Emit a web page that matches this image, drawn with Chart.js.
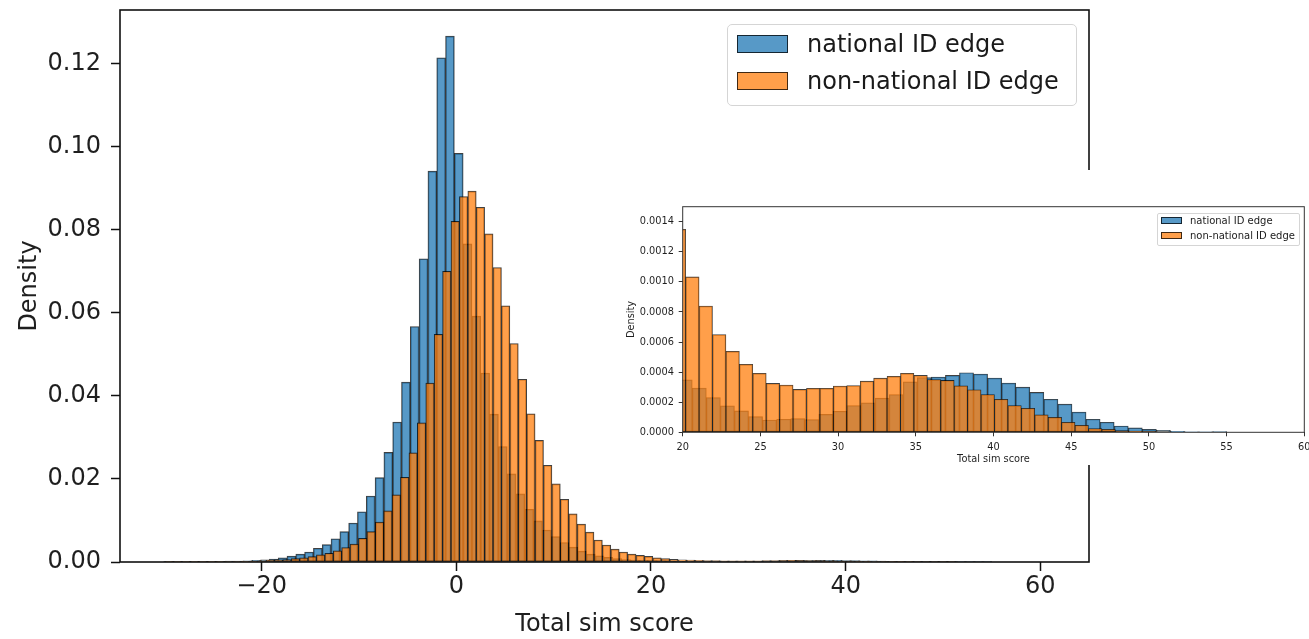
<!DOCTYPE html>
<html><head><meta charset="utf-8">
<script src="https://cdn.jsdelivr.net/npm/chart.js@4.4.1/dist/chart.umd.min.js"></script>
<style>
html,body{margin:0;padding:0;background:#fff;}
#wrap{position:relative;width:1309px;height:639px;overflow:hidden;font-family:'DejaVu Sans',sans-serif;background:#fff;}
#main{position:absolute;left:0;top:0;}
#insetBox{position:absolute;left:618px;top:170px;width:691px;height:295px;background:#fff;}
#inset{position:absolute;left:0;top:0;}
.legend{position:absolute;background:rgba(255,255,255,0.8);border:1px solid #d5d5d5;box-sizing:border-box;}
.legend .row{position:absolute;display:flex;align-items:center;white-space:nowrap;color:#1a1a1a;}
.legend .patch{box-sizing:border-box;border-style:solid;border-color:rgba(0,0,0,0.75);}
</style></head>
<body><div id="wrap">
<canvas id="main" width="1309" height="639"></canvas>
<div id="legendMain" class="legend"></div>
<div id="insetBox"><canvas id="inset" width="691" height="295"></canvas><div id="legendInset" class="legend"></div></div>
</div>
<script>
// ---------------- data ----------------
const seriesLabels = ['national ID edge', 'non-national ID edge'];
const xTitle = 'Total sim score';
const yTitle = 'Density';

// histogram bins (each series has its own bins)
const blueFirstEdge = -30.065, blueBinWidth = 0.905;
const orangeFirstEdge = -29.922, orangeBinWidth = 0.864;

const blueDensity = [
 0.00005,0.00005,0.00005,0.00005,0.00005,0.00008,0.00015,0.0002,0.00025,0.0003,
 0.0004,0.0005,0.0007,0.0010,0.0014,0.0019,0.0024,0.0033,0.0042,0.0056,
 0.0073,0.0094,0.0121,0.0159,0.0203,0.0264,0.0337,0.0433,0.0567,0.0730,
 0.0941,0.1214,0.1266,0.0984,0.0766,0.0592,0.0455,0.0356,0.0278,0.0212,
 0.0164,0.0127,0.0099,0.0077,0.0061,0.0047,0.0036,0.0026,0.0019,0.0015,
 0.0011,0.0008,0.0006,0.00048,0.00040,0.000349,0.000294,0.000231,0.000176,0.000142,
 0.000104,0.000082,0.000087,0.000091,0.000085,0.000120,0.000140,0.000178,0.000196,0.000227,
 0.000251,0.000336,0.000363,0.000367,0.000378,0.000396,0.000387,0.000361,0.000327,0.000300,
 0.000265,0.000220,0.000187,0.000134,0.000087,0.000067,0.000042,0.000029,0.000020,0.000013,
 0.000006,0.000003,0.000002,0.000004,0
];
const orangeDensity = [
 0.00003,0.00003,0.00003,0.00003,0.00003,0.00004,0.00005,0.0001,0.0001,0.00015,
 0.0002,0.0003,0.0004,0.0005,0.0006,0.0008,0.0010,0.0013,0.0017,0.0021,
 0.0027,0.0035,0.0043,0.0057,0.0073,0.0096,0.0123,0.0162,0.0204,0.0263,
 0.0335,0.0431,0.0548,0.0700,0.0820,0.0880,0.0893,0.0854,0.0790,0.0709,
 0.0617,0.0526,0.0440,0.0357,0.0293,0.0233,0.0188,0.0151,0.0116,0.0091,
 0.0072,0.0053,0.0041,0.0031,0.0024,0.0019,0.0016,0.00135,0.001033,0.000839,
 0.000650,0.000538,0.000452,0.000392,0.000325,0.000314,0.000285,0.000292,0.000292,0.000307,
 0.000311,0.000340,0.000360,0.000372,0.000392,0.000378,0.000351,0.000345,0.000309,0.000283,
 0.000251,0.000220,0.000178,0.000160,0.000116,0.000100,0.000067,0.000047,0.000025,0.000020,
 0.000011,0.000006,0.000004,0.000003,0,0
];

const mainXTicks = [-20, 0, 20, 40, 60];
const mainXTickLabels = ['\u221220', '0', '20', '40', '60'];
const mainYTicks = [0, 0.02, 0.04, 0.06, 0.08, 0.10, 0.12];
const mainYTickLabels = ['0.00', '0.02', '0.04', '0.06', '0.08', '0.10', '0.12'];
const insetXTicks = [20, 25, 30, 35, 40, 45, 50, 55, 60];
const insetXTickLabels = ['20', '25', '30', '35', '40', '45', '50', '55', '60'];
const insetYTicks = [0, 0.0002, 0.0004, 0.0006, 0.0008, 0.0010, 0.0012, 0.0014];
const insetYTickLabels = ['0.0000', '0.0002', '0.0004', '0.0006', '0.0008', '0.0010', '0.0012', '0.0014'];

// ---------------- styles ----------------
const fills = ['rgba(31,119,180,0.75)', 'rgba(255,127,14,0.75)'];
const edge = 'rgba(0,0,0,0.75)';
const textColor = '#1f1f1f';
const FONT = 'DejaVu Sans';

function toPoints(values, firstEdge, width) {
  return values.map((v, i) => ({ x: firstEdge + width * (i + 0.5), y: v }));
}

const framePlugin = {
  id: 'frame',
  afterDatasetsDraw(chart, args, opts) {
    const { ctx, chartArea: a } = chart;
    ctx.save();
    ctx.strokeStyle = opts.color;
    ctx.lineWidth = opts.width;
    ctx.strokeRect(a.left, a.top, a.right - a.left, a.bottom - a.top);
    ctx.restore();
  }
};

function makeChart(canvas, c) {
  const setTicks = (vals) => (s) => { s.ticks = vals.map(v => ({ value: v })); };
  const noPad = (s) => { s.paddingTop = 0; s.paddingBottom = 0; s.paddingLeft = 0; s.paddingRight = 0; };
  const ds = (idx, values, first, width, axis, order) => ({
    label: seriesLabels[idx],
    data: toPoints(values, first, width),
    xAxisID: axis,
    backgroundColor: fills[idx],
    borderColor: edge,
    borderWidth: c.bw,
    borderSkipped: false,
    order: order,
    clip: 0,
    grouped: false,
    categoryPercentage: 1,
    barPercentage: 1
  });
  const tickFont = { family: FONT, size: c.tickSize, lineHeight: 1.2 };
  const titleFont = { family: FONT, size: c.titleSize, lineHeight: 1.2 };
  return new Chart(canvas, {
    type: 'bar',
    data: {
      datasets: [
        ds(0, blueDensity, blueFirstEdge, blueBinWidth, 'x', 1),
        ds(1, orangeDensity, orangeFirstEdge, orangeBinWidth, 'xo', 0)
      ]
    },
    options: {
      responsive: false, animation: false, events: [],
      devicePixelRatio: 1,
      layout: { padding: c.padding },
      plugins: {
        legend: { display: false },
        tooltip: { enabled: false },
        frame: { color: c.frameColor, width: c.frameWidth }
      },
      scales: {
        x: {
          type: 'linear', position: 'bottom', min: c.xmin, max: c.xmax, offset: false,
          grid: { display: true, drawOnChartArea: false, drawTicks: true, offset: false,
                  tickLength: c.tickLen, tickWidth: c.tickWidth, tickColor: c.frameColor },
          border: { display: false },
          ticks: { font: tickFont, color: textColor, padding: c.xPad, maxRotation: 0, autoSkip: false,
                   callback: (v, i) => c.xLabels[i] },
          afterBuildTicks: setTicks(c.xTicks),
          afterFit: (s) => { s.height = c.xHeight; noPad(s); },
          title: { display: true, text: xTitle, font: titleFont, color: textColor,
                   padding: { top: 0, bottom: c.xTitlePad } }
        },
        xo: {
          type: 'linear', display: false, min: c.xmin, max: c.xmax, offset: false,
          grid: { offset: false },
          afterBuildTicks: setTicks(c.xTicks),
          afterFit: noPad
        },
        y: {
          type: 'linear', position: 'left', min: 0, max: c.ymax,
          grid: { display: true, drawOnChartArea: false, drawTicks: true,
                  tickLength: c.tickLen, tickWidth: c.tickWidth, tickColor: c.frameColor },
          border: { display: false },
          ticks: { font: tickFont, color: textColor, padding: c.yPad, autoSkip: false,
                   callback: (v, i) => c.yLabels[i] },
          afterBuildTicks: setTicks(c.yTicks),
          afterFit: (s) => { s.width = c.yWidth; noPad(s); },
          title: { display: true, text: yTitle, font: titleFont, color: textColor,
                   padding: { top: c.yTitlePad, bottom: 0 } }
        }
      }
    },
    plugins: [framePlugin]
  });
}

// main chart: plot area x 120..1089, y 10..562
makeChart(document.getElementById('main'), {
  xmin: -34.55, xmax: 65.0, ymax: 0.1329,
  xTicks: mainXTicks, xLabels: mainXTickLabels, yTicks: mainYTicks, yLabels: mainYTickLabels,
  padding: { left: 0, top: 10, right: 220, bottom: 0 },
  yWidth: 120, xHeight: 77,
  tickSize: 24, titleSize: 24, tickLen: 9, tickWidth: 1.5, xPad: 1, yPad: 10,
  xTitlePad: 0, yTitlePad: 15,
  frameColor: '#111', frameWidth: 1.6, bw: 1
});

// inset chart: plot area x 682.7..1304.3, y 206.7..432.3 (canvas offset 618,170)
makeChart(document.getElementById('inset'), {
  xmin: 20, xmax: 60, ymax: 0.0015,
  xTicks: insetXTicks, xLabels: insetXTickLabels, yTicks: insetYTicks, yLabels: insetYTickLabels,
  padding: { left: 0, top: 36.7, right: 4.7, bottom: 0 },
  yWidth: 64.7, xHeight: 32.7,
  tickSize: 9.8, titleSize: 9.8, tickLen: 4, tickWidth: 1, xPad: 5, yPad: 4.7,
  xTitlePad: 0, yTitlePad: 7.5,
  frameColor: '#333', frameWidth: 1, bw: 0.8
});

// legends (HTML, built from the series labels)
function buildLegend(el, o) {
  el.style.left = o.left + 'px'; el.style.top = o.top + 'px';
  el.style.width = o.width + 'px'; el.style.height = o.height + 'px';
  el.style.borderRadius = o.radius + 'px';
  seriesLabels.forEach((lab, i) => {
    const row = document.createElement('div');
    row.className = 'row';
    row.style.left = o.patchLeft + 'px';
    row.style.top = (o.rowCenters[i] - o.rowH / 2) + 'px';
    row.style.height = o.rowH + 'px';
    row.style.fontSize = o.fontSize + 'px';
    const p = document.createElement('span');
    p.className = 'patch';
    p.style.width = o.pw + 'px'; p.style.height = o.ph + 'px';
    p.style.borderWidth = o.pb + 'px';
    p.style.background = fills[i];
    p.style.marginRight = o.gap + 'px';
    p.style.display = 'inline-block';
    const t = document.createElement('span');
    t.textContent = lab;
    row.appendChild(p); row.appendChild(t);
    el.appendChild(row);
  });
}
buildLegend(document.getElementById('legendMain'), {
  left: 727, top: 23.5, width: 350, height: 82.5, radius: 5,
  patchLeft: 9, rowCenters: [19, 56], rowH: 30, fontSize: 24,
  pw: 51, ph: 18, pb: 1.5, gap: 19
});
buildLegend(document.getElementById('legendInset'), {
  left: 539, top: 42.7, width: 143, height: 33.5, radius: 2,
  patchLeft: 3, rowCenters: [7, 22], rowH: 13, fontSize: 10,
  pw: 21, ph: 7.5, pb: 1, gap: 8
});
</script>
</body></html>
